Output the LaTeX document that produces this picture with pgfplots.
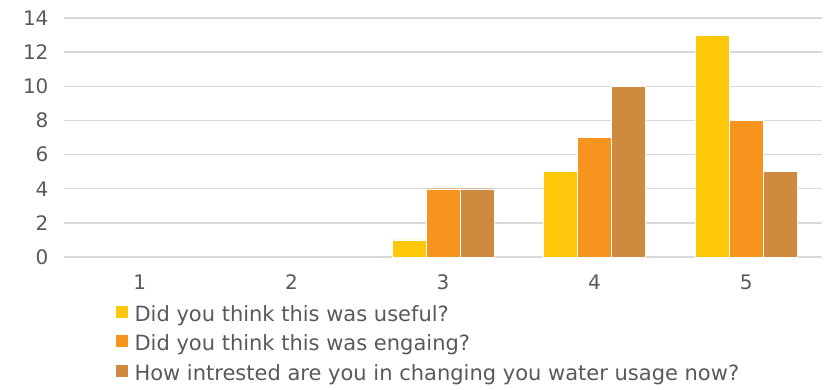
\documentclass[border=0pt]{standalone}
\usepackage{pgfplots}
\pgfplotsset{compat=1.18}
\usepackage{fontspec}
\setmainfont{DejaVu Sans}
\definecolor{txt}{HTML}{595959}
\definecolor{gridc}{HTML}{D9D9D9}
\definecolor{s1}{HTML}{FEC80A}
\definecolor{s2}{HTML}{F7941E}
\definecolor{s3}{HTML}{CE8B3F}
\begin{document}
\begin{tikzpicture}
\begin{axis}[
  scale only axis,
  width=758pt, height=239pt,
  xmin=0.5, xmax=5.5, ymin=0, ymax=14,
  ybar=0pt, bar width=34pt,
  xtick={1,2,3,4,5}, ytick={0,2,...,14},
  xmajorgrids=false, ymajorgrids=true,
  grid style={draw=gridc, line width=1.3pt},
  axis line style={draw=none},
  tick style={draw=none},
  clip=false,
  /pgf/number format/assume math mode=true,
  ticklabel style={font=\fontsize{20}{24}\selectfont, text=txt},
  yticklabel style={xshift=-12pt},
  xticklabel style={yshift=-10pt},
  legend style={at={(rel axis cs:0,0)}, anchor=north west, xshift=48pt, yshift=-44pt,
    draw=none, fill=none, font=\fontsize{21}{25}\selectfont, text=txt,
    legend cell align=left, row sep=8pt,
    /tikz/every odd column/.append style={column sep=4pt}},
  legend image code/.code={\fill[#1] (0pt,-4pt) rectangle (13pt,9pt);},
]
\addplot[fill=s1, draw=white, line width=0.3pt] coordinates {(3,1) (4,5) (5,13)};
\addplot[fill=s2, draw=white, line width=0.3pt] coordinates {(3,4) (4,7) (5,8)};
\addplot[fill=s3, draw=white, line width=0.3pt] coordinates {(3,4) (4,10) (5,5)};
\legend{Did you think this was useful?, Did you think this was engaing?, How intrested are you in changing you water usage now?}
\path (rel axis cs:0,0) ++(-64pt,-132pt) coordinate (bbA);
\path (rel axis cs:1,1) ++(4pt,18pt) coordinate (bbB);
\end{axis}
\useasboundingbox (bbA) rectangle (bbB);
\end{tikzpicture}
\end{document}
